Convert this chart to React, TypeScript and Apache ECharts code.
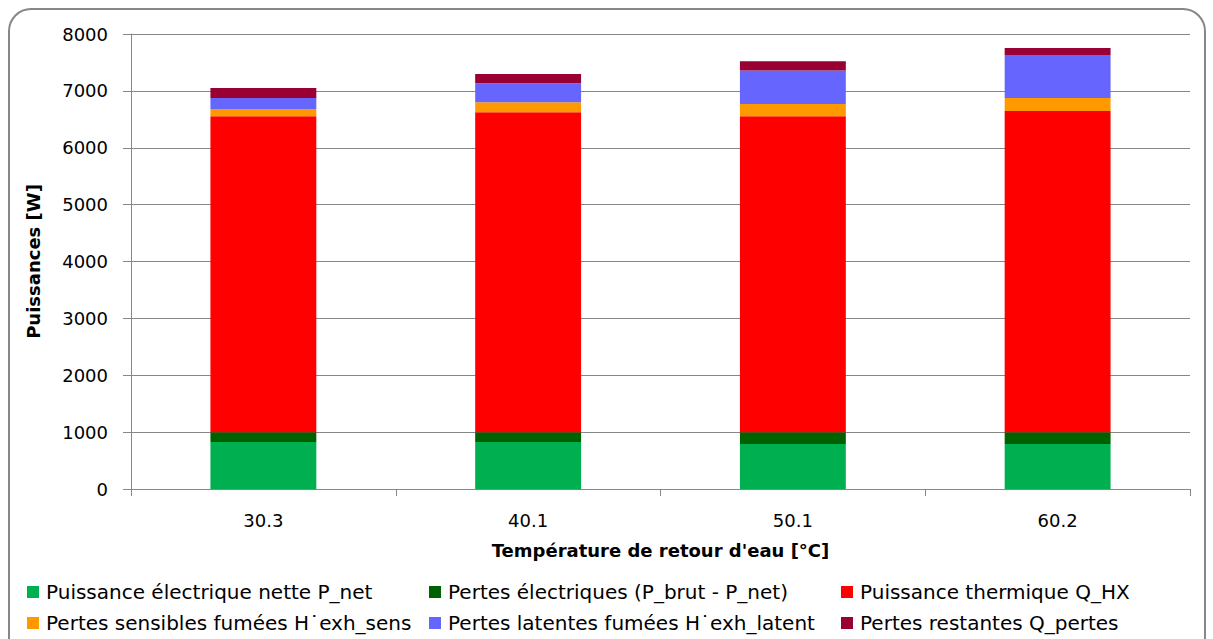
import React, { useEffect, useRef } from "react";
import * as echarts from "echarts";

const categories = ["30.3", "40.1", "50.1", "60.2"];
const seriesNames = [
  "Puissance électrique nette P_net",
  "Pertes électriques (P_brut - P_net)",
  "Puissance thermique Q_HX",
  "Pertes sensibles fumées H˙exh_sens",
  "Pertes latentes fumées H˙exh_latent",
  "Pertes restantes Q_pertes",
];
const pNet = [825, 825, 790, 790];
const pertesElec = [175, 175, 210, 210];
const qHX = [5555, 5625, 5555, 5645];
const pertesSens = [125, 175, 215, 230];
const pertesLatent = [195, 335, 590, 755];
const pertesRestantes = [175, 160, 160, 125];
const seriesData = [pNet, pertesElec, qHX, pertesSens, pertesLatent, pertesRestantes];
const colors = ["#00B050", "#006100", "#FF0000", "#FF9900", "#6666FF", "#990033"];
const yTicks = [0, 1000, 2000, 3000, 4000, 5000, 6000, 7000, 8000];

const FONT = "'DejaVu Sans', 'Liberation Sans', sans-serif";
const GRAY = "#878787";

export default function App() {
  const ref = useRef<HTMLDivElement>(null);
  useEffect(() => {
    if (!ref.current) return;
    const chart = echarts.init(ref.current, null, { renderer: "svg" });
    const legendPos = [
      { left: 27, top: 582 },
      { left: 429, top: 582 },
      { left: 841, top: 582 },
      { left: 27, top: 613 },
      { left: 429, top: 613 },
      { left: 841, top: 613 },
    ];
    chart.setOption({
      animation: false,
      textStyle: { fontFamily: FONT },
      grid: { left: 131, right: 23, top: 34, bottom: 150, containLabel: false },
      legend: seriesNames.map((n, i) => ({
        data: [n],
        left: legendPos[i].left,
        top: legendPos[i].top,
        icon: "rect",
        itemWidth: 12,
        itemHeight: 12,
        itemGap: 0,
        padding: 0,
        selectedMode: false,
        textStyle: { fontFamily: FONT, fontSize: 20, color: "#000", padding: [0, 0, 0, 2] },
      })),
      xAxis: {
        type: "category",
        data: categories,
        name: "Température de retour d'eau [°C]",
        nameLocation: "middle",
        nameGap: 52,
        nameTextStyle: { fontFamily: FONT, fontSize: 18, fontWeight: "bold", color: "#000" },
        axisLine: { lineStyle: { color: GRAY, width: 1 } },
        axisTick: { show: true, length: 7, interval: 0, alignWithLabel: false, lineStyle: { color: GRAY } },
        axisLabel: { fontSize: 18, color: "#000", margin: 22 },
      },
      yAxis: {
        type: "value",
        min: 0,
        max: 8000,
        interval: 1000,
        name: "Puissances [W]",
        nameLocation: "middle",
        nameGap: 89,
        nameRotate: 90,
        nameTextStyle: { fontFamily: FONT, fontSize: 18, fontWeight: "bold", color: "#000" },
        axisLine: { show: true, lineStyle: { color: GRAY, width: 1 } },
        axisTick: { show: true, length: 8, lineStyle: { color: GRAY } },
        axisLabel: {
          fontSize: 18,
          color: "#000",
          margin: 23,
          formatter: (v: number) => (yTicks.includes(v) ? String(v) : ""),
        },
        splitLine: { show: true, lineStyle: { color: GRAY, width: 1 } },
      },
      series: seriesNames.map((n, i) => ({
        name: n,
        type: "bar",
        stack: "total",
        barWidth: "40%",
        data: seriesData[i],
        itemStyle: { color: colors[i] },
      })),
      graphic: [
        {
          type: "rect",
          shape: { x: 9, y: 9, width: 1196, height: 700, r: 22 },
          style: { fill: "none", stroke: GRAY, lineWidth: 2 },
          silent: true,
        },
      ],
    });
    return () => chart.dispose();
  }, []);
  return (
    <div
      ref={ref}
      style={{ position: "absolute", left: 0, top: 0, width: 1213, height: 639, background: "#fff" }}
    />
  );
}
